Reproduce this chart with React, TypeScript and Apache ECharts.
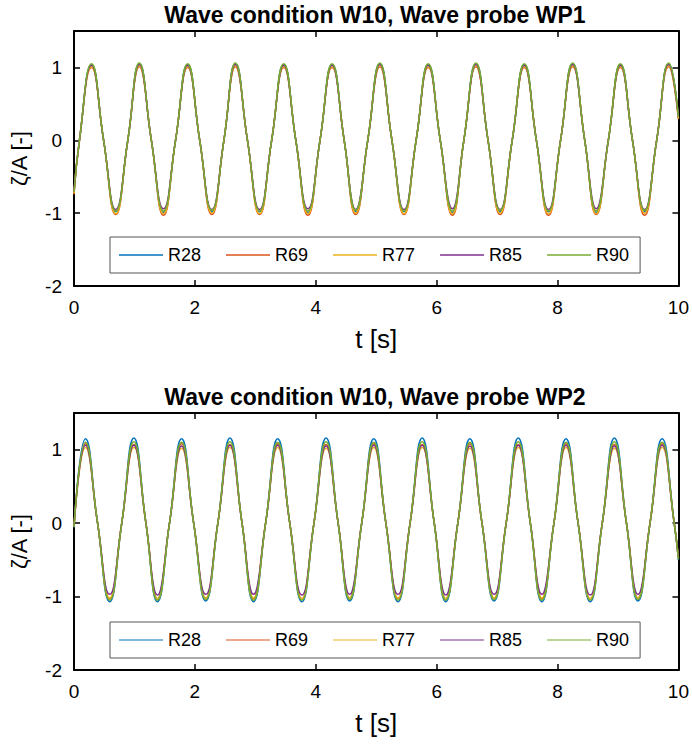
import React, { useEffect, useRef } from "react";
import * as echarts from "echarts";

// Series names and colours
const seriesNames = ["R28", "R69", "R77", "R85", "R90"];
const seriesColors = ["#0072BD", "#D95319", "#EDB120", "#7E2F8E", "#77AC30"];

const xTicks = [0, 2, 4, 6, 8, 10];
const yTicks = [-2, -1, 0, 1];

// Wave probe WP1: sample times (start, up-crossing, crest, down-crossing, trough, ...)
const tWP1 = [
  0,
  0.09, 0.29, 0.49, 0.69,
  0.89, 1.08, 1.28, 1.48,
  1.68, 1.88, 2.08, 2.28,
  2.48, 2.67, 2.87, 3.07,
  3.27, 3.47, 3.67, 3.87,
  4.07, 4.27, 4.47, 4.66,
  4.86, 5.06, 5.26, 5.46,
  5.66, 5.86, 6.06, 6.26,
  6.45, 6.65, 6.85, 7.05,
  7.25, 7.45, 7.65, 7.85,
  8.05, 8.25, 8.45, 8.64,
  8.84, 9.04, 9.24, 9.44,
  9.64, 9.84, 10.0,
];

const wp1R28 = [
  -0.72,
  0, 1.04, 0, -0.98, 0, 1.05, 0, -0.99, 0, 1.04, 0, -0.98, 0, 1.05, 0, -0.98,
  0, 1.04, 0, -0.99, 0, 1.04, 0, -0.98, 0, 1.05, 0, -0.98, 0, 1.04, 0, -0.99,
  0, 1.05, 0, -0.98, 0, 1.04, 0, -0.98, 0, 1.05, 0, -0.99, 0, 1.04, 0, -0.98,
  0, 1.05, 0.31,
];
const wp1R69 = [
  -0.74,
  0, 1.0, 0, -1.02, 0, 1.01, 0, -1.03, 0, 1.0, 0, -1.02, 0, 1.01, 0, -1.02,
  0, 1.0, 0, -1.03, 0, 1.0, 0, -1.02, 0, 1.01, 0, -1.02, 0, 1.0, 0, -1.03,
  0, 1.01, 0, -1.02, 0, 1.0, 0, -1.03, 0, 1.01, 0, -1.02, 0, 1.0, 0, -1.03,
  0, 1.01, 0.29,
];
const wp1R77 = [
  -0.73,
  0, 1.01, 0, -1.01, 0, 1.02, 0, -1.01, 0, 1.01, 0, -1.0, 0, 1.02, 0, -1.01,
  0, 1.01, 0, -1.01, 0, 1.01, 0, -1.0, 0, 1.02, 0, -1.01, 0, 1.01, 0, -1.01,
  0, 1.02, 0, -1.0, 0, 1.01, 0, -1.01, 0, 1.02, 0, -1.01, 0, 1.01, 0, -1.0,
  0, 1.02, 0.3,
];
const wp1R85 = [
  -0.7,
  0, 1.03, 0, -0.95, 0, 1.04, 0, -0.94, 0, 1.03, 0, -0.95, 0, 1.04, 0, -0.95,
  0, 1.03, 0, -0.94, 0, 1.03, 0, -0.95, 0, 1.04, 0, -0.95, 0, 1.03, 0, -0.94,
  0, 1.04, 0, -0.95, 0, 1.03, 0, -0.95, 0, 1.04, 0, -0.94, 0, 1.03, 0, -0.95,
  0, 1.04, 0.32,
];
const wp1R90 = [
  -0.71,
  0, 1.05, 0, -0.97, 0, 1.06, 0, -0.97, 0, 1.05, 0, -0.96, 0, 1.06, 0, -0.97,
  0, 1.05, 0, -0.97, 0, 1.05, 0, -0.96, 0, 1.06, 0, -0.97, 0, 1.05, 0, -0.97,
  0, 1.06, 0, -0.96, 0, 1.05, 0, -0.97, 0, 1.06, 0, -0.97, 0, 1.05, 0, -0.96,
  0, 1.06, 0.32,
];

// Wave probe WP2: sample times (start, crest, down-crossing, trough, up-crossing, ...)
const tWP2 = [
  0,
  0.19, 0.39, 0.59, 0.79,
  0.99, 1.19, 1.38, 1.58,
  1.78, 1.98, 2.18, 2.38,
  2.58, 2.78, 2.97, 3.17,
  3.37, 3.57, 3.77, 3.97,
  4.17, 4.37, 4.56, 4.76,
  4.96, 5.16, 5.36, 5.56,
  5.76, 5.96, 6.15, 6.35,
  6.55, 6.75, 6.95, 7.15,
  7.35, 7.55, 7.74, 7.94,
  8.14, 8.34, 8.54, 8.74,
  8.94, 9.14, 9.33, 9.53,
  9.73, 9.93, 10.0,
];

const wp2R28 = [
  -0.06,
  1.15, 0, -1.07, 0, 1.16, 0, -1.07, 0, 1.15, 0, -1.06, 0, 1.16, 0, -1.07, 0,
  1.15, 0, -1.07, 0, 1.16, 0, -1.06, 0, 1.15, 0, -1.07, 0, 1.16, 0, -1.07, 0,
  1.15, 0, -1.06, 0, 1.16, 0, -1.07, 0, 1.15, 0, -1.07, 0, 1.16, 0, -1.06, 0,
  1.15, 0, -0.5,
];
const wp2R69 = [
  -0.05,
  1.08, 0, -1.03, 0, 1.07, 0, -1.03, 0, 1.08, 0, -1.02, 0, 1.07, 0, -1.03, 0,
  1.08, 0, -1.03, 0, 1.07, 0, -1.02, 0, 1.08, 0, -1.03, 0, 1.07, 0, -1.03, 0,
  1.08, 0, -1.02, 0, 1.07, 0, -1.03, 0, 1.08, 0, -1.03, 0, 1.07, 0, -1.02, 0,
  1.08, 0, -0.48,
];
const wp2R77 = [
  -0.05,
  1.03, 0, -1.02, 0, 1.03, 0, -1.03, 0, 1.02, 0, -1.02, 0, 1.03, 0, -1.02, 0,
  1.03, 0, -1.03, 0, 1.02, 0, -1.02, 0, 1.03, 0, -1.02, 0, 1.03, 0, -1.03, 0,
  1.02, 0, -1.02, 0, 1.03, 0, -1.02, 0, 1.03, 0, -1.03, 0, 1.02, 0, -1.02, 0,
  1.03, 0, -0.47,
];
const wp2R85 = [
  -0.04,
  1.06, 0, -0.97, 0, 1.06, 0, -0.98, 0, 1.05, 0, -0.97, 0, 1.06, 0, -0.97, 0,
  1.06, 0, -0.98, 0, 1.05, 0, -0.97, 0, 1.06, 0, -0.97, 0, 1.06, 0, -0.98, 0,
  1.05, 0, -0.97, 0, 1.06, 0, -0.97, 0, 1.06, 0, -0.98, 0, 1.05, 0, -0.97, 0,
  1.06, 0, -0.46,
];
const wp2R90 = [
  -0.05,
  1.1, 0, -1.05, 0, 1.11, 0, -1.05, 0, 1.1, 0, -1.04, 0, 1.11, 0, -1.05, 0,
  1.1, 0, -1.05, 0, 1.11, 0, -1.04, 0, 1.1, 0, -1.05, 0, 1.11, 0, -1.05, 0,
  1.1, 0, -1.04, 0, 1.11, 0, -1.05, 0, 1.1, 0, -1.05, 0, 1.11, 0, -1.04, 0,
  1.1, 0, -0.49,
];

const wp1Values = [wp1R28, wp1R69, wp1R77, wp1R85, wp1R90];
const wp2Values = [wp2R28, wp2R69, wp2R77, wp2R85, wp2R90];

const titles = [
  "Wave condition W10, Wave probe WP1",
  "Wave condition W10, Wave probe WP2",
];

const FONT = "Liberation Sans, Arial, Helvetica, sans-serif";

export default function App() {
  const ref = useRef<HTMLDivElement>(null);

  useEffect(() => {
    if (!ref.current) return;
    const chart = echarts.init(ref.current, undefined, { renderer: "svg" });

    const gridTops = [31, 413];
    const gridHeights = [255, 257];
    const legendTops = [237, 622];
    const titleTops = [3, 385];

    const axisLine = { show: true, onZero: false, lineStyle: { color: "#000", width: 2 } };
    const axisTick = { show: true, inside: true, length: 6, lineStyle: { color: "#000", width: 1.5 } };

    const xAxes: any[] = [];
    const yAxes: any[] = [];
    [0, 1].forEach((g) => {
      xAxes.push({
        type: "value",
        gridIndex: g,
        min: xTicks[0],
        max: xTicks[xTicks.length - 1],
        interval: 2,
        position: "bottom",
        axisLine,
        axisTick,
        splitLine: { show: false },
        axisLabel: { color: "#000", fontSize: 19, fontFamily: FONT, margin: 12 },
        name: "t [s]",
        nameLocation: "middle",
        nameGap: 40,
        nameTextStyle: { color: "#000", fontSize: 26, fontFamily: FONT },
      });
      xAxes.push({
        type: "value",
        gridIndex: g,
        min: xTicks[0],
        max: xTicks[xTicks.length - 1],
        interval: 2,
        position: "top",
        axisLine,
        axisTick,
        splitLine: { show: false },
        axisLabel: { show: false },
      });
      yAxes.push({
        type: "value",
        gridIndex: g,
        min: yTicks[0],
        max: 1.5,
        interval: 1,
        position: "left",
        axisLine,
        axisTick,
        splitLine: { show: false },
        axisLabel: {
          color: "#000",
          fontSize: 19,
          fontFamily: FONT,
          margin: 12,
          showMaxLabel: false,
        },
        name: "ζ/A [-]",
        nameLocation: "middle",
        nameGap: 44,
        nameTextStyle: { color: "#000", fontSize: 22, fontFamily: FONT },
      });
      yAxes.push({
        type: "value",
        gridIndex: g,
        min: yTicks[0],
        max: 1.5,
        interval: 1,
        position: "right",
        axisLine,
        axisTick,
        splitLine: { show: false },
        axisLabel: { show: false },
      });
    });

    const series: any[] = [];
    [wp1Values, wp2Values].forEach((vals, g) => {
      const times = g === 0 ? tWP1 : tWP2;
      vals.forEach((v, i) => {
        series.push({
          type: "line",
          name: seriesNames[i],
          xAxisIndex: g * 2,
          yAxisIndex: g * 2,
          data: times.map((t, k) => [t, v[k]]),
          smooth: true,
          symbol: "none",
          color: seriesColors[i],
          lineStyle: { width: 1.5, color: seriesColors[i] },
          z: 2 + i,
        });
      });
    });

    chart.setOption({
      animation: false,
      backgroundColor: "#fff",
      title: titles.map((text, g) => ({
        text,
        left: 375,
        top: titleTops[g],
        textAlign: "center",
        padding: 0,
        textStyle: { fontSize: 23, fontWeight: "bold", color: "#000", fontFamily: FONT },
      })),
      grid: [0, 1].map((g) => ({
        left: 72,
        top: gridTops[g],
        width: 607,
        height: gridHeights[g],
        containLabel: false,
      })),
      legend: [0, 1].map((g) => ({
        data: seriesNames,
        left: 110,
        top: legendTops[g],
        orient: "horizontal",
        icon: "rect",
        itemWidth: 44,
        itemHeight: g === 1 ? 2 : 1.5,
        itemGap: 25,
        padding: [9, 11, 9, 9],
        borderColor: "#555",
        borderWidth: 1,
        backgroundColor: "#fff",
        selectedMode: false,
        itemStyle: { opacity: g === 1 ? 0.5 : 1 },
        textStyle: { fontSize: 18, color: "#000", fontFamily: FONT },
      })),
      xAxis: xAxes,
      yAxis: yAxes,
      series,
    });

    return () => chart.dispose();
  }, []);

  return (
    <div
      ref={ref}
      style={{ position: "fixed", left: 0, top: 0, width: 692, height: 745, background: "#fff" }}
    />
  );
}
